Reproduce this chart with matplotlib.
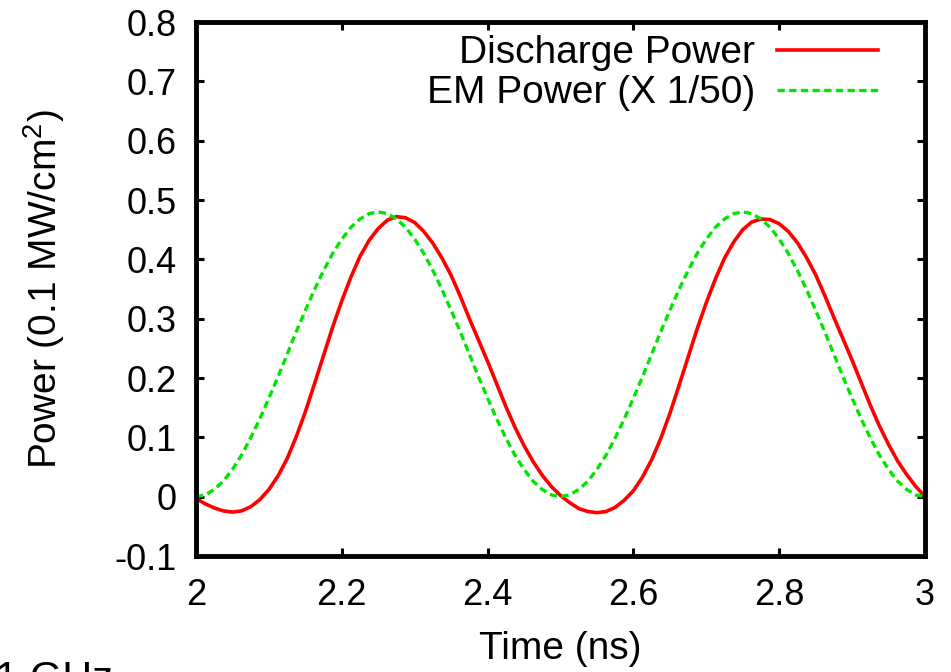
import matplotlib
matplotlib.use("Agg")
import matplotlib.pyplot as plt

# values, step 0.0125 ns
time_ns = [2.0 + 0.0125 * i for i in range(81)]
discharge_power = [
    -0.003, -0.012, -0.019, -0.024, -0.026, -0.024, -0.017, -0.005, 0.012, 0.035,
    0.064, 0.101, 0.143, 0.190, 0.238, 0.286, 0.330, 0.370, 0.405, 0.432,
    0.452, 0.466, 0.472, 0.470, 0.462, 0.447, 0.427, 0.402, 0.373, 0.338,
    0.300, 0.264, 0.228, 0.190, 0.152, 0.117, 0.086, 0.059, 0.036, 0.017,
    0.002, -0.010, -0.020, -0.025, -0.027, -0.025, -0.018, -0.006, 0.010, 0.033,
    0.062, 0.098, 0.140, 0.187, 0.235, 0.283, 0.327, 0.367, 0.402, 0.429,
    0.450, 0.463, 0.468, 0.467, 0.460, 0.447, 0.428, 0.403, 0.374, 0.339,
    0.302, 0.266, 0.230, 0.192, 0.154, 0.119, 0.088, 0.060, 0.037, 0.017,
    0.000,
]
em_power = [
    0.000, 0.003, 0.012, 0.026, 0.046, 0.070, 0.099, 0.131, 0.166, 0.202,
    0.240, 0.278, 0.314, 0.349, 0.381, 0.410, 0.434, 0.454, 0.468, 0.477,
    0.480, 0.477, 0.468, 0.454, 0.434, 0.410, 0.381, 0.349, 0.314, 0.278,
    0.240, 0.202, 0.166, 0.131, 0.099, 0.070, 0.046, 0.026, 0.012, 0.003,
    0.000, 0.003, 0.012, 0.026, 0.046, 0.070, 0.099, 0.131, 0.166, 0.202,
    0.240, 0.278, 0.314, 0.349, 0.381, 0.410, 0.434, 0.454, 0.468, 0.477,
    0.480, 0.477, 0.468, 0.454, 0.434, 0.410, 0.381, 0.349, 0.314, 0.278,
    0.240, 0.202, 0.166, 0.131, 0.099, 0.070, 0.046, 0.026, 0.012, 0.003,
    0.000,
]
x_ticks = [2, 2.2, 2.4, 2.6, 2.8, 3]
x_labels = ["2", "2.2", "2.4", "2.6", "2.8", "3"]
y_ticks = [-0.1, 0, 0.1, 0.2, 0.3, 0.4, 0.5, 0.6, 0.7, 0.8]
y_labels = ["-0.1", "0", "0.1", "0.2", "0.3", "0.4", "0.5", "0.6", "0.7", "0.8"]

plt.rcParams["font.family"] = ["Liberation Sans", "DejaVu Sans"]
plt.rcParams["mathtext.fontset"] = "custom"
plt.rcParams["mathtext.rm"] = "Liberation Sans"
plt.rcParams["mathtext.it"] = "Liberation Sans"
FS_TICK = 26
FS_TEXT = 28

fig = plt.figure(figsize=(9.51, 6.72), dpi=100, facecolor="white")
ax = fig.add_axes([196 / 951, 116 / 672, 729 / 951, 534 / 672])

ax.plot(time_ns, discharge_power, color="#ff0000", lw=2.6, label="Discharge Power")
ax.plot(time_ns, em_power, color="#00e600", lw=2.4, dashes=(2.2, 1.3),
        label="EM Power (X 1/50)")

ax.set_xlim(2, 3)
ax.set_ylim(-0.1, 0.8)
ax.set_xticks(x_ticks, x_labels)
ax.set_yticks(y_ticks, y_labels)
ax.tick_params(direction="in", length=6, width=2.2, top=True, right=True,
               labelsize=FS_TICK, color="black")
ax.tick_params(axis="x", pad=16)
ax.tick_params(axis="y", pad=14)
for sp in ax.spines.values():
    sp.set_linewidth(3.5)

ax.set_xlabel("Time (ns)", fontsize=FS_TEXT, labelpad=13)
ax.set_ylabel("Power (0.1 MW/cm$^{2}$)", fontsize=FS_TEXT, labelpad=34)

ax.legend(loc="upper right", bbox_to_anchor=(0.9355, 0.975), frameon=False,
          fontsize=FS_TEXT, markerfirst=False, handlelength=2.6,
          handletextpad=0.55, borderaxespad=0, borderpad=0, labelspacing=0.1)

# partially visible slide text cut by the bottom edge
fig.text(-0.005, -0.041, "1 GHz", fontsize=30, ha="left", va="bottom")

fig.savefig("out.png", dpi=100, facecolor="white")
